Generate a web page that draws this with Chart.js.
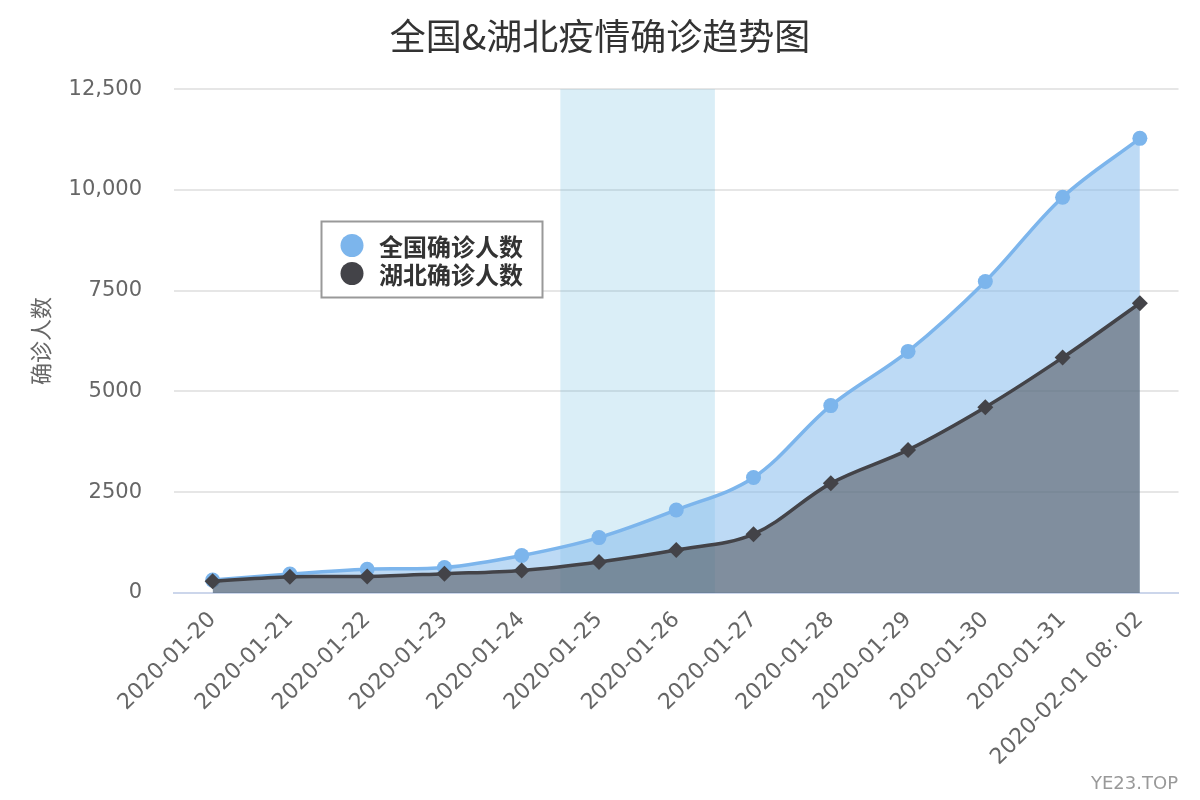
<!DOCTYPE html>
<html>
<head>
<meta charset="utf-8">
<script src="https://cdn.jsdelivr.net/npm/chart.js@4.4.1/dist/chart.umd.min.js"></script>
<style>
  html, body { margin: 0; padding: 0; background: #ffffff; }
  #wrap { width: 1200px; height: 800px; position: relative; }
</style>
</head>
<body>
<div id="wrap"><canvas id="c" width="1200" height="800"></canvas></div>
<script>
const chartTitle = '全国&湖北疫情确诊趋势图';
const yAxisTitle = '确诊人数';
const creditText = 'YE23.TOP';
const categories = ['2020-01-20','2020-01-21','2020-01-22','2020-01-23','2020-01-24','2020-01-25','2020-01-26','2020-01-27','2020-01-28','2020-01-29','2020-01-30','2020-01-31','2020-02-01 08: 02'];
const seriesNames = ['全国确诊人数', '湖北确诊人数'];
const nationalCases = [320, 470, 590, 630, 930, 1375, 2060, 2865, 4650, 5995, 7730, 9820, 11280];
const hubeiCases = [290, 405, 410, 480, 560, 770, 1065, 1460, 2720, 3550, 4610, 5840, 7190];
const yTickValues = [0, 2500, 5000, 7500, 10000, 12500];
const bandFrom = 4.5;
const bandTo = 6.5;

const FONT = '"DejaVu Sans", "Noto Sans CJK SC", sans-serif';
const CJK = '"Noto Sans CJK SC", "DejaVu Sans", sans-serif';
const seriesColors = ['#7cb5ec', '#434348'];
const seriesFills = ['rgba(124,181,236,0.5)', 'rgba(67,67,72,0.5)'];

const plotBandPlugin = {
  id: 'plotBand',
  beforeDatasetsDraw(chart) {
    const { ctx, chartArea, scales } = chart;
    const x1 = scales.x.getPixelForValue(bandFrom);
    const x2 = scales.x.getPixelForValue(bandTo);
    ctx.save();
    ctx.fillStyle = 'rgba(68,170,213,0.2)';
    ctx.fillRect(x1, chartArea.top, x2 - x1, chartArea.bottom - chartArea.top);
    ctx.restore();
  }
};

const innerLegendPlugin = {
  id: 'innerLegend',
  afterDraw(chart) {
    const ctx = chart.ctx;
    ctx.save();
    ctx.fillStyle = '#ffffff';
    ctx.fillRect(321.5, 221.5, 221, 76);
    ctx.strokeStyle = '#999999';
    ctx.lineWidth = 2;
    ctx.strokeRect(321.5, 221.5, 221, 76);
    seriesNames.forEach((name, i) => {
      const cy = 245.5 + i * 28;
      ctx.beginPath();
      ctx.arc(352, cy, 11.5, 0, Math.PI * 2);
      ctx.fillStyle = seriesColors[i];
      ctx.fill();
      ctx.fillStyle = '#333333';
      ctx.font = 'bold 24px ' + CJK;
      ctx.textAlign = 'left';
      ctx.textBaseline = 'middle';
      ctx.fillText(name, 379, cy + 1);
    });
    ctx.font = '18px ' + FONT;
    ctx.fillStyle = '#999999';
    ctx.textAlign = 'right';
    ctx.textBaseline = 'alphabetic';
    ctx.fillText(creditText, 1178, 789);
    ctx.restore();
  }
};

new Chart(document.getElementById('c'), {
  type: 'line',
  data: {
    labels: categories,
    datasets: [
      {
        label: seriesNames[0],
        data: nationalCases,
        order: 1,
        borderColor: seriesColors[0],
        backgroundColor: seriesFills[0],
        pointBackgroundColor: seriesColors[0],
        pointBorderWidth: 0,
        pointStyle: 'circle',
        pointRadius: 7.5,
        borderWidth: 3.5,
        tension: 0.35,
        fill: 'origin'
      },
      {
        label: seriesNames[1],
        data: hubeiCases,
        order: 0,
        borderColor: seriesColors[1],
        backgroundColor: seriesFills[1],
        pointBackgroundColor: seriesColors[1],
        pointBorderWidth: 0,
        pointStyle: 'rectRot',
        pointRadius: 8,
        borderWidth: 3.5,
        tension: 0.35,
        fill: 'origin'
      }
    ]
  },
  options: {
    responsive: false,
    devicePixelRatio: 1,
    animation: false,
    layout: { padding: { left: 21.5, right: 21.5, top: 0, bottom: 0 } },
    plugins: {
      legend: { display: false },
      tooltip: { enabled: false },
      title: {
        display: true,
        text: chartTitle,
        color: '#333333',
        font: { family: CJK, size: 36, weight: 'normal' },
        padding: { top: 15, bottom: 31 }
      }
    },
    scales: {
      x: {
        type: 'category',
        offset: true,
        grid: { display: false, drawTicks: false },
        border: { display: true, color: '#ccd6eb', width: 2 },
        ticks: {
          autoSkip: false,
          maxRotation: 45,
          minRotation: 45,
          padding: 14,
          color: '#666666',
          font: { family: FONT, size: 22 }
        },
        afterFit(scale) { scale.height = 207; }
      },
      y: {
        min: 0,
        max: 12500,
        afterBuildTicks(scale) { scale.ticks = yTickValues.map(v => ({ value: v })); },
        grid: { color: '#e6e6e6', lineWidth: 2, drawTicks: false },
        border: { display: false },
        ticks: {
          padding: 32,
          color: '#666666',
          font: { family: FONT, size: 21 },
          callback: (v) => v >= 10000 ? v.toLocaleString('en-US') : String(v)
        },
        title: {
          display: true,
          text: yAxisTitle,
          color: '#666666',
          font: { family: CJK, size: 22 },
          padding: { top: 5.5, bottom: 0 }
        },
        afterFit(scale) { scale.width = 152.5; }
      }
    }
  },
  plugins: [plotBandPlugin, innerLegendPlugin]
});
</script>
</body>
</html>
